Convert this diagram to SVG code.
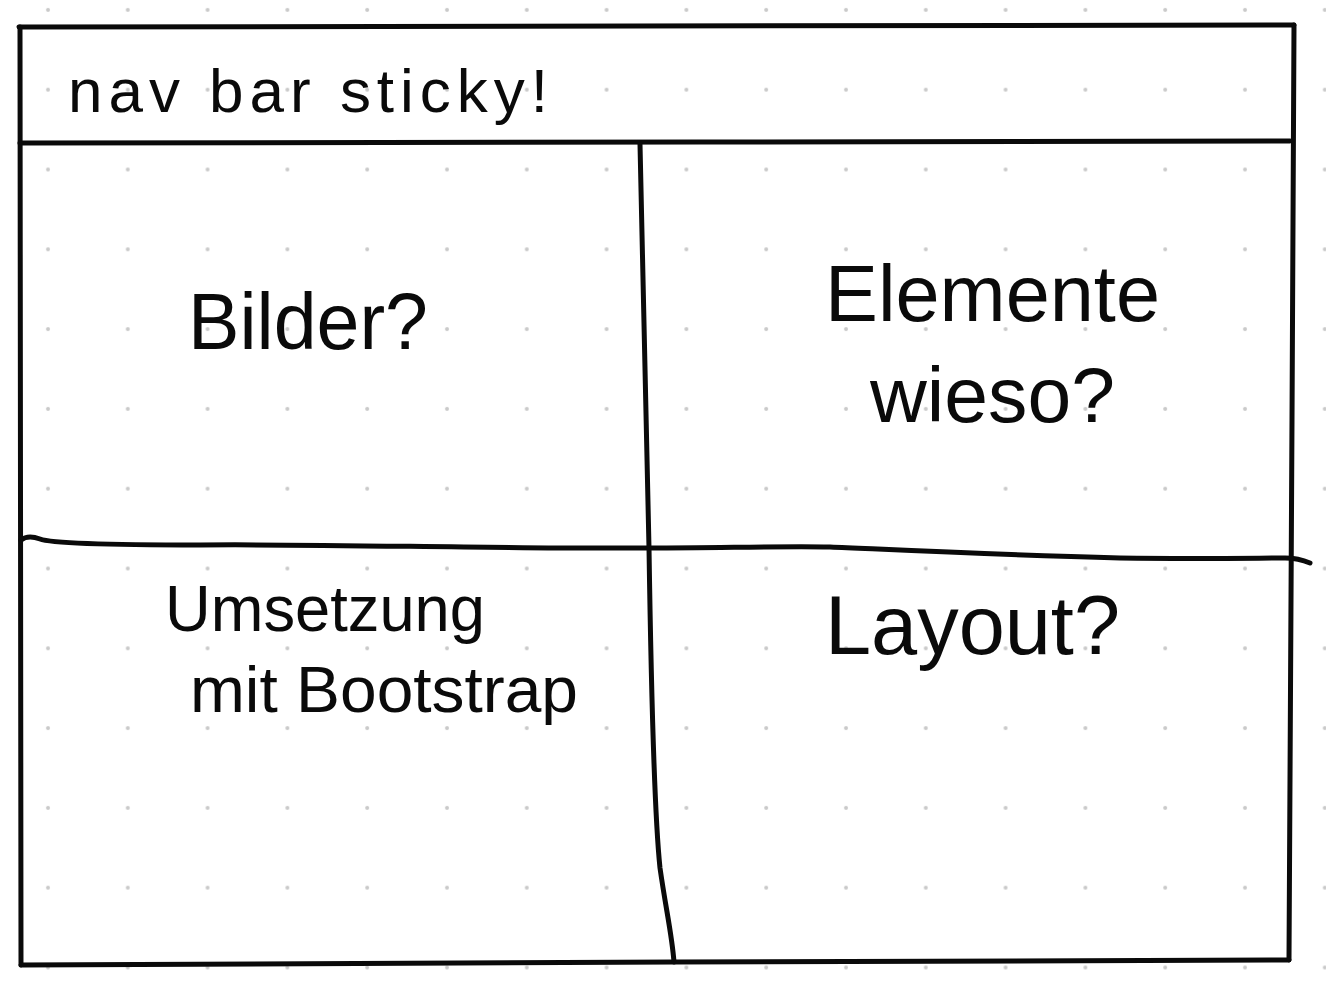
<svg xmlns="http://www.w3.org/2000/svg" width="1326" height="995" viewBox="0 0 1326 995">
  <defs>
    <!-- dotted notebook paper -->
    <pattern id="dots" patternUnits="userSpaceOnUse" x="8" y="-30" width="79.8" height="79.8">
      <circle cx="40" cy="40" r="2" fill="#c9c9c9"/>
    </pattern>
    <style>
      .pen { fill: none; stroke: #0a0a0a; stroke-width: 5; stroke-linecap: round; stroke-linejoin: round; }
      .ink { fill: #0a0a0a; font-family: "Liberation Sans", "DejaVu Sans", sans-serif; }
    </style>
  </defs>

  <rect width="1326" height="995" fill="#ffffff"/>
  <rect width="1326" height="995" fill="url(#dots)"/>

  <!-- hand-drawn frame and dividers -->
  <g id="lines">
    <path class="pen" d="M19,27 L1294,25"/>
    <path class="pen" d="M20,27 L21,965"/>
    <path class="pen" d="M21,965 L675,962 L1289,960"/>
    <path class="pen" d="M1294,25 L1292,420 L1289,960"/>
    <path class="pen" d="M20,143 L700,142 L1290,141"/>
    <path class="pen" d="M640,144 C643,300 647,440 649,548 C651,680 655,820 660,868 C666,910 672,935 674,962"/>
    <path class="pen" d="M21,540 C26,536 32,536 40,539 C52,544 120,545 200,545 C300,544 420,547 560,548 L650,548 C720,548 780,546 830,547 C900,550 1000,555 1120,558 C1200,559 1260,558 1285,558 C1296,558 1303,560 1310,563"/>
  </g>

  <g id="header">
    <text class="ink" x="68" y="112" font-size="62" textLength="480" lengthAdjust="spacing">nav bar sticky!</text>
  </g>

  <g id="cell-bilder">
    <text class="ink" x="188" y="349" font-size="80" textLength="240" lengthAdjust="spacingAndGlyphs">Bilder?</text>
  </g>

  <g id="cell-elemente">
    <text class="ink" x="825" y="321" font-size="80" textLength="335" lengthAdjust="spacingAndGlyphs">Elemente</text>
    <text class="ink" x="870" y="422" font-size="78" textLength="245" lengthAdjust="spacingAndGlyphs">wieso?</text>
  </g>

  <g id="cell-umsetzung">
    <text class="ink" x="165" y="631" font-size="64" textLength="320" lengthAdjust="spacingAndGlyphs">Umsetzung</text>
    <text class="ink" x="190" y="712" font-size="64" textLength="388" lengthAdjust="spacingAndGlyphs">mit Bootstrap</text>
  </g>

  <g id="cell-layout">
    <text class="ink" x="825" y="654" font-size="84" textLength="295" lengthAdjust="spacingAndGlyphs">Layout?</text>
  </g>
</svg>
